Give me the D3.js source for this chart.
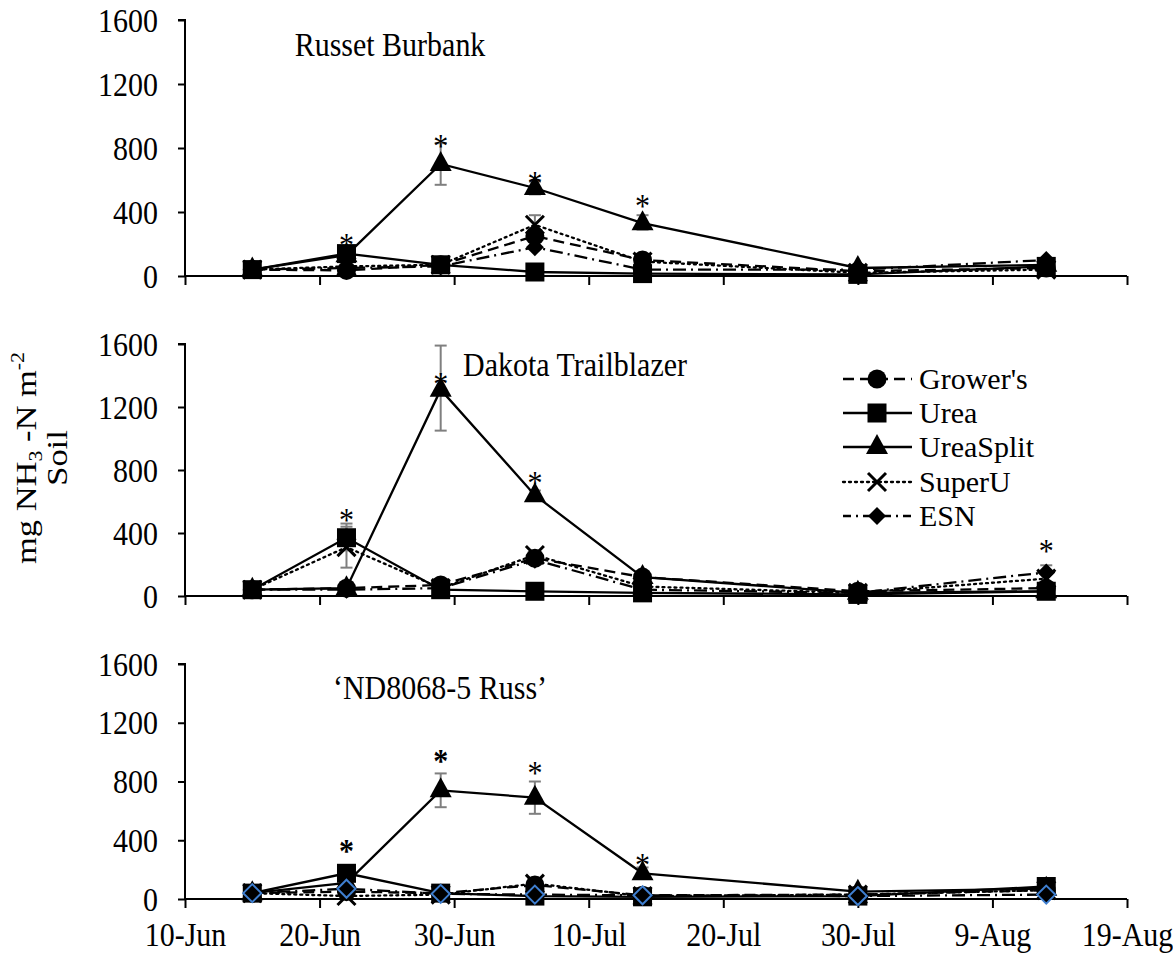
<!DOCTYPE html>
<html>
<head>
<meta charset="utf-8">
<script src="https://cdn.jsdelivr.net/npm/d3@7"></script>
<style>
  html, body { margin: 0; padding: 0; background: #fff; }
  svg text { font-family: "Liberation Serif", "Times New Roman", serif; fill: #000; }
</style>
</head>
<body>
<svg id="chart" width="1173" height="957"></svg>
<script>
// ---------------- DATA ----------------
const sampleDates = ["2014-06-15","2014-06-22","2014-06-29","2014-07-06","2014-07-14","2014-07-30","2014-08-13"];
const tickDates = ["2014-06-10","2014-06-20","2014-06-30","2014-07-10","2014-07-20","2014-07-30","2014-08-09","2014-08-19"];
const yTicks = [0, 400, 800, 1200, 1600];
const seriesNames = ["Grower's", "Urea", "UreaSplit", "SuperU", "ESN"];
const panelTitles = ["Russet Burbank", "Dakota Trailblazer", "\u2018ND8068-5 Russ\u2019"];

// Russet Burbank
const growersRB   = [40, 35, 70, 250, 100, 30, 50];
const ureaRB      = [40, 140, 70, 25, 15, 10, 60];
const ureaSplitRB = [40, 130, 700, 550, 330, 50, 70];
const superURB    = [40, 60, 70, 320, 90, 20, 40];
const esnRB       = [40, 50, 60, 180, 40, 40, 100];
// Dakota Trailblazer
const growersDT   = [40, 50, 70, 240, 120, 30, 50];
const ureaDT      = [40, 370, 40, 30, 20, 10, 30];
const ureaSplitDT = [40, 50, 1310, 640, 120, 20, 30];
const superUDT    = [40, 310, 50, 260, 60, 20, 110];
const esnDT       = [40, 40, 50, 230, 40, 20, 150];
// ND8068-5 Russ
const growersND   = [40, 50, 40, 95, 25, 30, 60];
const ureaND      = [40, 175, 40, 20, 15, 20, 85];
const ureaSplitND = [40, 110, 740, 690, 175, 50, 70];
const superUND    = [40, 20, 30, 105, 20, 30, 60];
const esnND       = [40, 70, 35, 30, 25, 20, 30];

// error bars: [series index, date index, low, high]
const errRB = [[2, 2, 570, 830], [2, 3, 510, 590], [2, 4, 290, 380], [3, 3, 260, 380]];
const errDT = [[2, 2, 1050, 1590], [1, 1, 290, 460], [3, 1, 180, 440], [2, 3, 610, 670], [3, 6, 40, 195]];
const errND = [[2, 2, 625, 855], [2, 3, 580, 800], [2, 4, 140, 215]];

// significance stars: [date index, height in data units, bold]
const starsRB = [[1, 245, 0], [2, 860, 0], [3, 630, 0], [4, 490, 0]];
const starsDT = [[1, 533, 0], [2, 1400, 0], [3, 768, 0], [6, 336, 0]];
const starsND = [[1, 381, 1], [2, 994, 1], [3, 912, 0], [4, 286, 0]];

// ---------------- LAYOUT ----------------
const parse = d3.timeParse("%Y-%m-%d");
const svg = d3.select("#chart");
const FONT = 30;
const SY = 1.15; // vertical stretch of glyphs in the reference
const SERIF = "'Liberation Serif', 'Times New Roman', serif";

const x = d3.scaleTime()
  .domain([parse(tickDates[0]), parse(tickDates[tickDates.length - 1])])
  .range([185, 1127]);

const panels = [
  { title: panelTitles[0], yRange: [276, 20], series: [growersRB, ureaRB, ureaSplitRB, superURB, esnRB], err: errRB, stars: starsRB, tx: 390, ty: 56, anchor: "middle", xLabels: false, blueDiamond: false },
  { title: panelTitles[1], yRange: [596, 344], series: [growersDT, ureaDT, ureaSplitDT, superUDT, esnDT], err: errDT, stars: starsDT, tx: 463, ty: 376, anchor: "start", xLabels: false, blueDiamond: false },
  { title: panelTitles[2], yRange: [899, 664], series: [growersND, ureaND, ureaSplitND, superUND, esnND], err: errND, stars: starsND, tx: 440, ty: 699, anchor: "middle", xLabels: true, blueDiamond: true }
];

const dashes = ["11,6", null, null, "2,4", "13,5,2,5"];
const legendDashes = ["11,6", null, null, "2,4", "8,5,2,5"];
const LW = 2.3;

// text at (tx,ty) with vertical glyph stretch
function stretchedText(parent, tx, ty, size, sy = SY) {
  return parent.append("text")
    .attr("transform", `translate(${tx},${ty}) scale(1,${sy})`)
    .attr("font-size", size).style("font-family", SERIF);
}

// marker drawing
function drawMarker(g, kind, cx, cy, opts = {}) {
  const fill = opts.fill || "#000";
  if (kind === 0) {
    g.append("circle").attr("cx", cx).attr("cy", cy).attr("r", 9.5).attr("fill", fill);
  } else if (kind === 1) {
    g.append("rect").attr("x", cx - 9.5).attr("y", cy - 9.5).attr("width", 19).attr("height", 19).attr("fill", fill);
  } else if (kind === 2) {
    g.append("path").attr("d", `M${cx},${cy - 13}L${cx + 11},${cy + 7}L${cx - 11},${cy + 7}Z`).attr("fill", fill);
  } else if (kind === 3) {
    const s = 9;
    g.append("path").attr("d", `M${cx - s},${cy - s}L${cx + s},${cy + s}M${cx + s},${cy - s}L${cx - s},${cy + s}`)
      .attr("stroke", "#000").attr("stroke-width", 3).attr("fill", "none");
  } else {
    const s = 9;
    g.append("path").attr("d", `M${cx},${cy - s}L${cx + s},${cy}L${cx},${cy + s}L${cx - s},${cy}Z`)
      .attr("fill", fill)
      .attr("stroke", opts.stroke || "none").attr("stroke-width", opts.stroke ? 2 : 0);
  }
}

panels.forEach(p => {
  const y = d3.scaleLinear().domain([0, 1600]).range(p.yRange);
  const g = svg.append("g");

  // y axis
  const yAxis = d3.axisLeft(y).tickValues(yTicks).tickSize(7).tickPadding(20).tickFormat(d3.format("d"));
  const ya = g.append("g").attr("transform", `translate(${x.range()[0]},0)`).call(yAxis);
  ya.select(".domain").attr("stroke", "#000").attr("stroke-width", 2).attr("d", `M-7,${y(1600)}H0V${y(0)}`);
  ya.selectAll(".tick line").attr("stroke", "#000").attr("stroke-width", 2);
  ya.selectAll(".tick text").attr("font-size", FONT).style("font-family", SERIF).attr("fill", "#000")
    .attr("transform", `scale(1,${SY})`);

  // x axis
  const xAxis = d3.axisBottom(x).tickValues(tickDates.map(parse)).tickSize(9).tickPadding(8)
    .tickFormat(p.xLabels ? d3.timeFormat("%-d-%b") : () => "");
  const xa = g.append("g").attr("transform", `translate(0,${y(0)})`).call(xAxis);
  xa.select(".domain").attr("stroke", "#000").attr("stroke-width", 2).attr("d", `M${x.range()[0]},0H${x.range()[1]}`);
  xa.selectAll(".tick line").attr("stroke", "#000").attr("stroke-width", 2);
  xa.selectAll(".tick text").attr("font-size", FONT).style("font-family", SERIF).attr("fill", "#000")
    .attr("y", 20).attr("transform", `scale(1,${SY})`);

  // title
  stretchedText(g, p.tx, p.ty, FONT).attr("text-anchor", p.anchor).text(p.title);

  // error bars (drawn beneath)
  p.err.forEach(([si, di, lo, hi]) => {
    const cx = x(parse(sampleDates[di]));
    const eg = g.append("g").attr("stroke", "#7f7f7f").attr("stroke-width", 2).attr("fill", "none");
    eg.append("line").attr("x1", cx).attr("x2", cx).attr("y1", y(lo)).attr("y2", y(hi));
    eg.append("line").attr("x1", cx - 6).attr("x2", cx + 6).attr("y1", y(lo)).attr("y2", y(lo));
    eg.append("line").attr("x1", cx - 6).attr("x2", cx + 6).attr("y1", y(hi)).attr("y2", y(hi));
  });

  // lines
  p.series.forEach((vals, si) => {
    const line = d3.line().x((d, i) => x(parse(sampleDates[i]))).y(d => y(d));
    g.append("path").datum(vals).attr("d", line).attr("fill", "none")
      .attr("stroke", "#000").attr("stroke-width", LW)
      .attr("stroke-dasharray", dashes[si]).attr("stroke-linecap", si === 3 ? "round" : "butt");
  });

  // markers
  p.series.forEach((vals, si) => {
    const mg = g.append("g");
    vals.forEach((v, i) => {
      const opts = (si === 4 && p.blueDiamond) ? { fill: "#000", stroke: "#3f7fd0" } : {};
      drawMarker(mg, si, x(parse(sampleDates[i])), y(v), opts);
    });
  });

  // stars
  p.stars.forEach(([di, h, bold]) => {
    stretchedText(g, x(parse(sampleDates[di])), y(h) + 19, 30)
      .attr("text-anchor", "middle")
      .attr("font-weight", bold ? "bold" : "normal").text("*");
  });
});

// legend
const legend = svg.append("g");
const legendY = [379, 413, 447, 482, 516];
seriesNames.forEach((name, i) => {
  const ly = legendY[i];
  legend.append("line").attr("x1", 843).attr("x2", 912).attr("y1", ly).attr("y2", ly)
    .attr("stroke", "#000").attr("stroke-width", LW).attr("stroke-dasharray", legendDashes[i])
    .attr("stroke-linecap", i === 3 ? "round" : "butt");
  drawMarker(legend, i, 877, ly, {});
  stretchedText(legend, 919, ly + 10, 30, 1.0).text(name);
});

// y axis title (two lines, rotated)
const yt = svg.append("text").attr("transform", `translate(36,458) rotate(-90) scale(${SY},1)`)
  .attr("text-anchor", "middle").attr("font-size", FONT).style("font-family", SERIF);
yt.append("tspan").text("mg NH");
yt.append("tspan").attr("font-size", 19).attr("dy", 6).text("3");
yt.append("tspan").attr("dy", -6).text(" -N m");
yt.append("tspan").attr("font-size", 19).attr("dy", -12).text("-2");
svg.append("text").attr("transform", `translate(67,458) rotate(-90) scale(${SY},1)`)
  .attr("text-anchor", "middle").attr("font-size", FONT).style("font-family", SERIF).text("Soil");
</script>
</body>
</html>
